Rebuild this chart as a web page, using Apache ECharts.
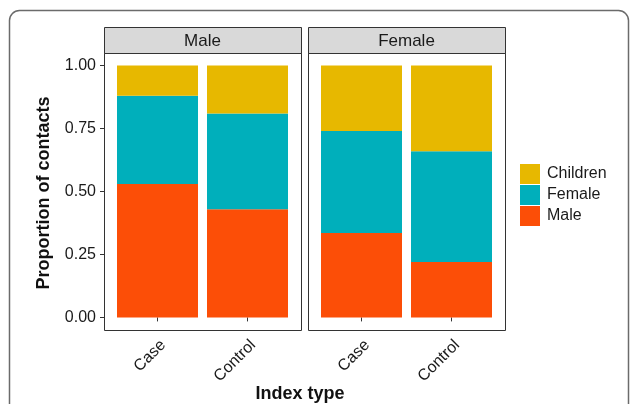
<!DOCTYPE html>
<html>
<head>
<meta charset="utf-8">
<script src="https://cdn.jsdelivr.net/npm/echarts@6/dist/echarts.min.js"></script>
<style>
  html, body { margin: 0; padding: 0; background: #ffffff; }
  #chart { width: 630px; height: 404px; }
</style>
</head>
<body>
<div id="chart"></div>
<script>
// Contact composition by index type, faceted by sex of the index person
const panels = ['Male', 'Female'];
const indexTypes = ['Case', 'Control'];
const groups = ['Male', 'Female', 'Children'];          // stacking order, bottom to top
const legendOrder = ['Children', 'Female', 'Male'];
const yTicks = [0, 0.25, 0.5, 0.75, 1];

// proportions per panel: [Case, Control]
const maleIndexMale = [0.53, 0.43];
const maleIndexFemale = [0.35, 0.38];
const maleIndexChildren = [0.12, 0.19];
const femaleIndexMale = [0.335, 0.22];
const femaleIndexFemale = [0.405, 0.44];
const femaleIndexChildren = [0.26, 0.34];

const panelValues = [
  { Male: maleIndexMale, Female: maleIndexFemale, Children: maleIndexChildren },
  { Male: femaleIndexMale, Female: femaleIndexFemale, Children: femaleIndexChildren }
];

const colors = { Male: '#FC4E07', Female: '#00AFBB', Children: '#E7B800' };
const FONT = '"Liberation Sans", Arial, Helvetica, sans-serif';

// facet panel frames (the plotting area itself is inset inside each frame)
const panelLeft = [104, 308];
const panelTop = 53;
const panelW = 197;
const panelH = 277;
const stripH = 26;
const inset = 8.5;        // horizontal padding between frame and first/last category band

const grids = panels.map((p, i) => ({
  left: panelLeft[i] + inset, top: panelTop, width: panelW - 2 * inset, height: panelH,
  show: false
}));

const xAxes = panels.map((p, i) => ({
  type: 'category', gridIndex: i, data: indexTypes,
  axisLine: { show: false },
  splitLine: { show: false },
  axisTick: { show: true, alignWithLabel: true, length: 4, lineStyle: { color: '#333333' } },
  axisLabel: {
    show: true, rotate: 45, margin: 7, interval: 0,
    verticalAlign: 'top',
    fontSize: 16, color: '#1a1a1a', fontFamily: FONT
  }
}));

const yAxes = panels.map((p, i) => ({
  type: 'value', gridIndex: i, min: -0.05, max: 1.05,
  offset: inset,
  axisLine: { show: false },
  splitLine: { show: false },
  axisTick: { show: i === 0, customValues: yTicks, length: 4, lineStyle: { color: '#333333' } },
  axisLabel: {
    show: i === 0, customValues: yTicks, margin: 8,
    fontSize: 16, color: '#1a1a1a', fontFamily: FONT,
    formatter: v => v.toFixed(2)
  }
}));

const series = [];
panels.forEach((p, i) => {
  groups.forEach(g => {
    series.push({
      name: g, type: 'bar', xAxisIndex: i, yAxisIndex: i,
      stack: 'panel' + i, barWidth: 81,
      itemStyle: { color: colors[g] },
      emphasis: { disabled: true },
      data: panelValues[i][g]
    });
  });
});

const graphics = [
  {
    type: 'rect', silent: true, z: -10,
    shape: { x: 9.5, y: 10.5, width: 619, height: 430, r: 10 },
    style: { fill: 'none', stroke: '#6b6b6b', lineWidth: 1.5 }
  },
  {
    type: 'text', silent: true,
    x: 44.5, y: 193, rotation: Math.PI / 2,
    style: {
      text: 'Proportion of contacts', fontSize: 18, fontWeight: 'bold', fontFamily: FONT,
      fill: '#111111', align: 'center', verticalAlign: 'middle'
    }
  },
  {
    type: 'text', silent: true,
    x: 300, y: 394,
    style: {
      text: 'Index type', fontSize: 18, fontWeight: 'bold', fontFamily: FONT,
      fill: '#111111', align: 'center', verticalAlign: 'middle'
    }
  }
];
panels.forEach((p, i) => {
  // panel frame
  graphics.push({
    type: 'rect', silent: true, z: 10,
    shape: { x: panelLeft[i] + 0.5, y: panelTop + 0.5, width: panelW, height: panelH },
    style: { fill: 'none', stroke: '#333333', lineWidth: 1 }
  });
  // strip
  graphics.push({
    type: 'rect', silent: true,
    shape: { x: panelLeft[i] + 0.5, y: panelTop - stripH + 0.5, width: panelW, height: stripH },
    style: { fill: '#d9d9d9', stroke: '#333333', lineWidth: 1 }
  });
  graphics.push({
    type: 'text', silent: true,
    x: panelLeft[i] + panelW / 2, y: panelTop - stripH / 2 + 1.5,
    style: {
      text: p, fontSize: 17, fontFamily: FONT, fill: '#1a1a1a',
      align: 'center', verticalAlign: 'middle'
    }
  });
});

const chart = echarts.init(document.getElementById('chart'), null, { renderer: 'canvas' });
chart.setOption({
  animation: false,
  backgroundColor: '#ffffff',
  grid: grids,
  xAxis: xAxes,
  yAxis: yAxes,
  legend: {
    data: legendOrder, orient: 'vertical', left: 520, top: 164, padding: 0,
    itemWidth: 20, itemHeight: 20, itemGap: 1, icon: 'rect',
    selectedMode: false,
    textStyle: { fontSize: 16, color: '#1a1a1a', fontFamily: FONT, padding: [0, 0, 0, 2] }
  },
  series: series,
  graphic: graphics
});
</script>
</body>
</html>
